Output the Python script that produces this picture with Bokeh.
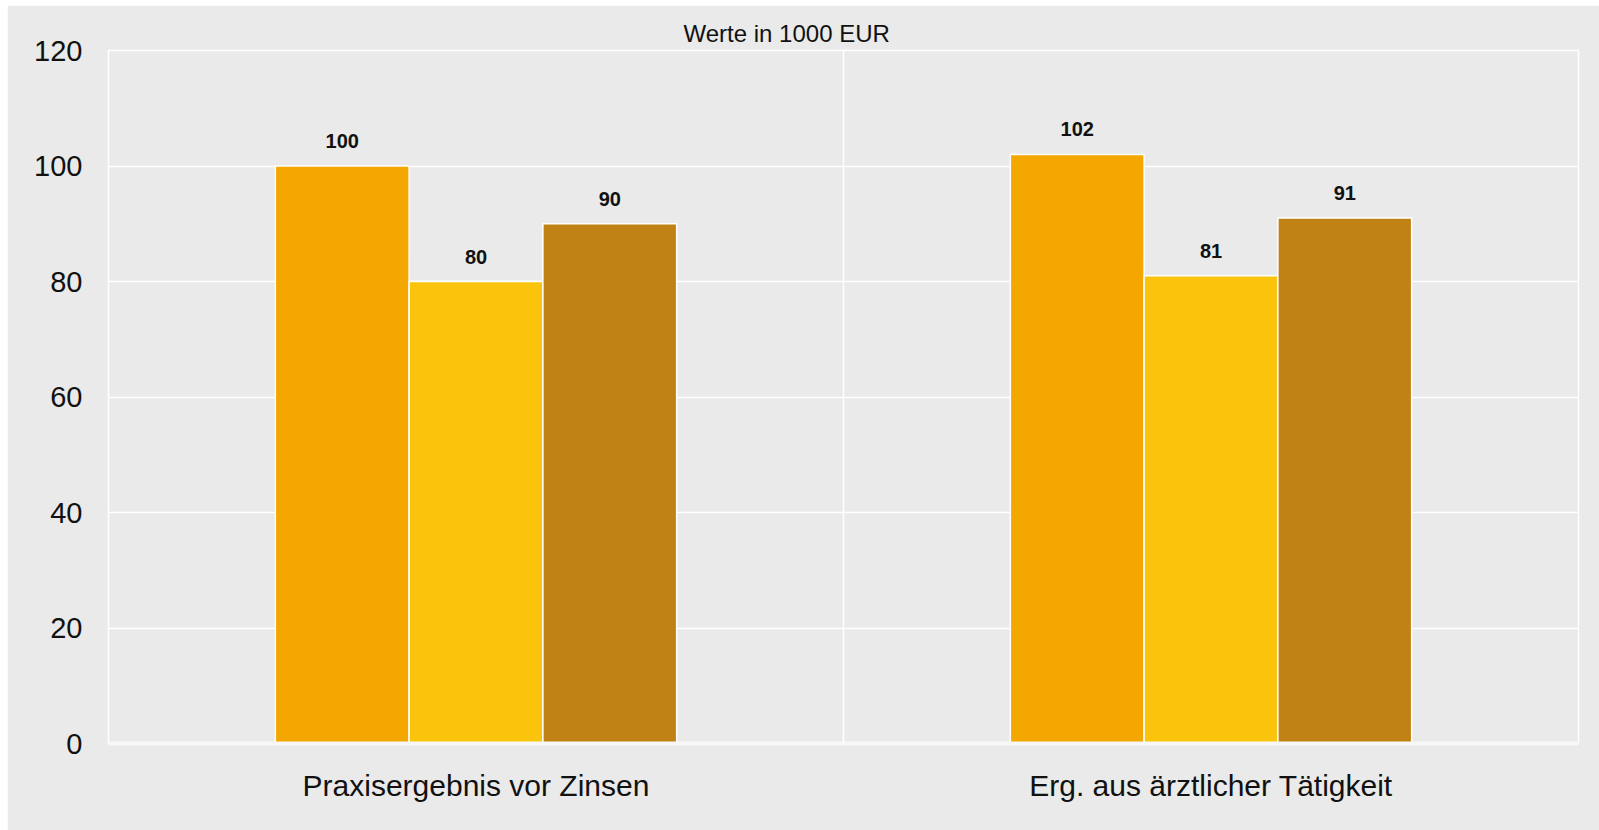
from bokeh.plotting import figure
from bokeh.models import ColumnDataSource, LabelSet, Span, FixedTicker, Spacer
from bokeh.layouts import column, row
from bokeh.core.properties import value
from bokeh.transform import dodge
from bokeh.embed import file_html
from bokeh.resources import INLINE

categories = ["Praxisergebnis vor Zinsen", "Erg. aus ärztlicher Tätigkeit"]
series_a = [100, 102]
series_b = [80, 81]
series_c = [90, 91]
y_ticks = [0, 20, 40, 60, 80, 100, 120]
title_text = "Werte in 1000 EUR"

colors = ["#F4A700", "#FAC30C", "#C08215"]
bg = "#E9EAE9"
FONT = "Liberation Sans"

src = ColumnDataSource(dict(
    cat=categories,
    a=series_a, b=series_b, c=series_c,
    a_txt=[str(v) for v in series_a],
    b_txt=[str(v) for v in series_b],
    c_txt=[str(v) for v in series_c],
))

p = figure(x_range=categories, y_range=(0, 120), width=1592, height=825,
           output_backend="svg", toolbar_location=None,
           min_border_left=101, min_border_right=21, min_border_top=45,
           min_border_bottom=87)
p.background_fill_color = bg
p.border_fill_color = bg
p.outline_line_color = "white"
p.outline_line_width = 1.5

p.title.text = title_text
p.title.text_font = FONT
p.title.text_font_size = "24px"
p.title.text_font_style = "normal"
p.title.text_color = "#111111"
p.title.align = "left"
p.title.offset = 575
p.title.standoff = 8

bw = 0.182
offsets = [-bw, 0.0, bw]
for field, col, off in zip(["a", "b", "c"], colors, offsets):
    p.vbar(x=dodge("cat", off, range=p.x_range), top=field, width=bw, source=src,
           fill_color=col, line_color="white", line_width=1.5)
    lab = LabelSet(x=dodge("cat", off, range=p.x_range), y=field, text=field + "_txt",
                   source=src, text_align="center", text_baseline="middle",
                   y_offset=25, text_font=value(FONT), text_font_size=value("20px"),
                   text_font_style="bold", text_color="#111111")
    p.add_layout(lab)

for i in range(1, len(categories)):
    p.add_layout(Span(location=i, dimension="height", line_color="white", line_width=1.5))

p.ygrid.grid_line_color = "white"
p.ygrid.grid_line_width = 1.5
p.xgrid.grid_line_color = None

p.yaxis.ticker = FixedTicker(ticks=y_ticks)
p.yaxis.axis_line_color = None
p.yaxis.major_tick_line_color = None
p.yaxis.minor_tick_line_color = None
p.yaxis.major_label_standoff = 20
p.yaxis.major_label_text_font = FONT
p.yaxis.major_label_text_font_size = "29px"
p.yaxis.major_label_text_color = "#111111"

p.xaxis.axis_line_color = "#F7F7F7"
p.xaxis.axis_line_width = 4
p.xaxis.major_tick_line_color = None
p.xaxis.minor_tick_line_color = None
p.xaxis.major_label_standoff = 19
p.xaxis.major_label_text_font = FONT
p.xaxis.major_label_text_font_size = "30px"
p.xaxis.major_label_text_color = "#111111"

layout = column(Spacer(height=5), row(Spacer(width=7), p))
open("out.html", "w").write(file_html(layout, INLINE))
